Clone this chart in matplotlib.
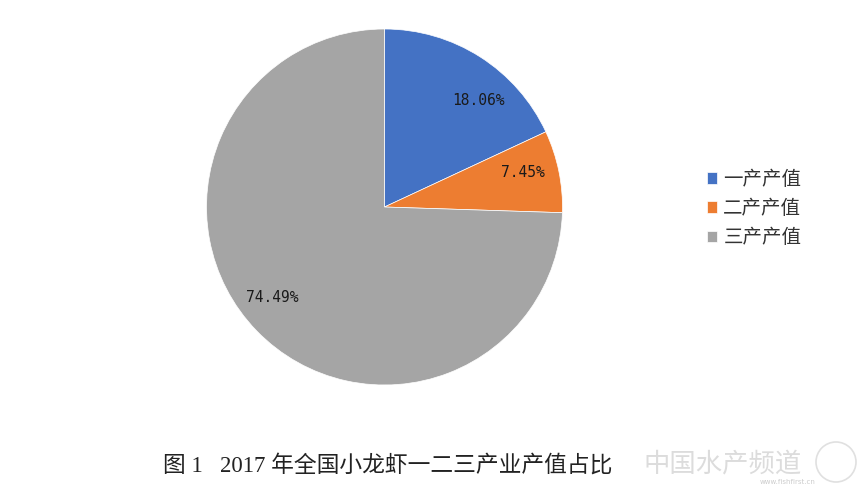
import matplotlib.pyplot as plt
from matplotlib.patches import Circle

# 数据
labels = ['一产产值', '二产产值', '三产产值']
values = [18.06, 7.45, 74.49]
colors = ['#4472C4', '#ED7D31', '#A5A5A5']
title = '图 1   2017 年全国小龙虾一二三产业产值占比'

W, H = 864, 491
fig = plt.figure(figsize=(W / 100, H / 100), dpi=100)
ax = fig.add_axes([0, 0, 1, 1])

# 饼图（像素坐标）
cx, cy, r = 384.5, H - 207, 178
wedges, texts, autotexts = ax.pie(
    values, colors=colors, startangle=90, counterclock=False,
    center=(cx, cy), radius=r, autopct='%.2f%%', pctdistance=0.8,
    textprops=dict(family='DejaVu Sans Mono', fontsize=10.5, color='#1a1a1a'),
    wedgeprops=dict(linewidth=0.5, edgecolor='white'), frame=True)
ax.set_xlim(0, W)
ax.set_ylim(0, H)
ax.set_aspect('equal')
ax.axis('off')

# 标签位置微调
label_pos = [(478, H - 100), (523, H - 172), (272, H - 297)]
for t, p in zip(autotexts, label_pos):
    t.set_position(p)
    t.set_ha('center')
    t.set_va('center')

# 图例
leg = ax.legend(wedges, labels, loc='center left', bbox_to_anchor=(0.818, 0.575),
                frameon=False, prop=dict(family='Noto Sans CJK SC', size=14),
                handlelength=0.55, handleheight=0.55, handletextpad=0.3,
                labelspacing=0.42, borderpad=0, borderaxespad=0)
for t in leg.get_texts():
    t.set_color('#333333')

# 标题
fig.text(163 / W, 1 - 466 / H, title, ha='left', va='center', fontsize=16.4,
         family=['Liberation Serif', 'Noto Sans CJK SC'], color='#222222')

# 水印
fig.text(643 / W, 1 - 464 / H, '中国水产频道', ha='left', va='center',
         fontsize=19, family='Noto Sans CJK SC', color='#dcdcdc')
fig.text(760 / W, 1 - 482 / H, 'www.fishfirst.cn', ha='left', va='center',
         fontsize=5, color='#cccccc')
ax.add_patch(Circle((836, H - 462), 20, fill=False, edgecolor='#e0e0e0', lw=1.2))

fig.savefig('out.png', dpi=100)
